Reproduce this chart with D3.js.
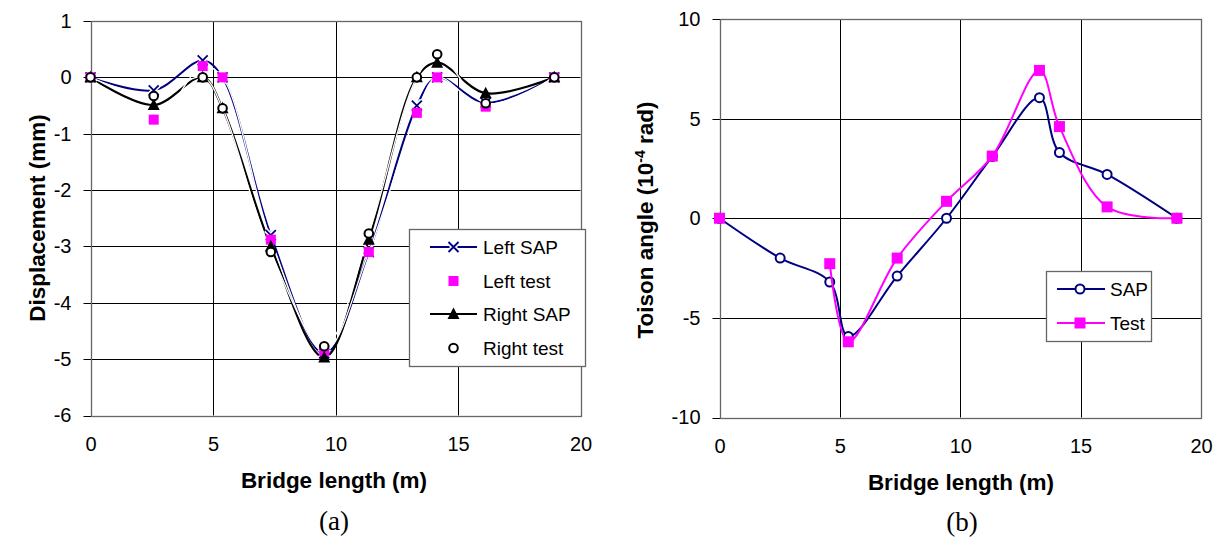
<!DOCTYPE html>
<html><head><meta charset="utf-8">
<script src="https://cdn.jsdelivr.net/npm/d3@7"></script>
<style>
html,body{margin:0;padding:0;background:#fff;}
svg{display:block;}
</style></head>
<body>
<svg id="c" width="1222" height="545" font-family="Liberation Sans, Arial, sans-serif"></svg>
<script>
// ---------- data (a) displacement ----------
const xTicks = [0, 5, 10, 15, 20];
const yTicksA = [1, 0, -1, -2, -3, -4, -5, -6];
const distA = [0, 2.58, 4.58, 5.39, 7.36, 9.54, 11.36, 13.32, 14.15, 16.13, 18.93];
const leftSAP   = [0, -0.23, 0.3, 0, -2.8, -4.9, -3.1, -0.5, 0, -0.45, 0];
const leftTest  = [0, -0.75, 0.2, 0, -2.88, -4.86, -3.1, -0.63, 0, -0.52, 0];
const rightSAP  = [0, -0.49, 0, -0.55, -3.0, -4.97, -2.88, 0, 0.26, -0.28, 0];
const rightTest = [0, -0.33, 0, -0.55, -3.1, -4.77, -2.77, 0, 0.41, -0.46, 0];
const legendA = ["Left SAP", "Left test", "Right SAP", "Right test"];

// ---------- data (b) torsion angle ----------
const yTicksB = [10, 5, 0, -5, -10];
const distB = [0, 2.52, 4.58, 5.35, 7.38, 9.43, 11.33, 13.29, 14.12, 16.1, 19.0];
const sapB  = [0, -2.0, -3.2, -5.93, -2.9, 0, 3.1, 6.05, 3.3, 2.2, 0];
const testB = [0, null, -2.28, -6.2, -2.0, 0.85, 3.12, 7.42, 4.6, 0.57, 0];
const legendB = ["SAP", "Test"];

const NAVY = "#000080", MAG = "#FF00FF";
const SANS = "Liberation Sans, Arial, sans-serif";
const SERIF = "Liberation Serif, Times New Roman, serif";
const svg = d3.select("#c");

function frame(g, x, y, yTicks) {
  const [x0, x1] = x.range(); const [y0, y1] = y.range();
  g.append("g").selectAll("line").data(yTicks).join("line")
    .attr("x1", x0 - 7).attr("x2", x1)
    .attr("y1", d => Math.round(y(d)) + 0.5).attr("y2", d => Math.round(y(d)) + 0.5)
    .attr("stroke", "#000").attr("stroke-width", 1);
  g.append("g").selectAll("line").data(xTicks).join("line")
    .attr("x1", d => Math.round(x(d)) + 0.5).attr("x2", d => Math.round(x(d)) + 0.5)
    .attr("y1", y1).attr("y2", y0)
    .attr("stroke", "#000").attr("stroke-width", 1);
  g.append("rect").attr("x", Math.round(x0) + 0.5).attr("y", Math.round(y1) + 0.5)
    .attr("width", Math.round(x1) - Math.round(x0)).attr("height", Math.round(y0) - Math.round(y1))
    .attr("fill", "none").attr("stroke", "#666").attr("stroke-width", 1.3);
  const ay = g.append("g").attr("transform", `translate(${x0},0)`)
    .call(d3.axisLeft(y).tickValues(yTicks).tickSize(0).tickPadding(19).tickFormat(d => String(d)));
  ay.select(".domain").remove();
  ay.selectAll("text").attr("font-size", 20).attr("fill", "#000").style("font-family", SANS);
  const ax = g.append("g").attr("transform", `translate(0,${y0})`)
    .call(d3.axisBottom(x).tickValues(xTicks).tickSize(0).tickPadding(21).tickFormat(d => String(d)));
  ax.select(".domain").remove();
  ax.selectAll("text").attr("font-size", 20).attr("fill", "#000").style("font-family", SANS);
}

function xMark(g, cx, cy, s, color) {
  const d = `M${cx-s},${cy-s}L${cx+s},${cy+s}M${cx-s},${cy+s}L${cx+s},${cy-s}`;
  g.append("path").attr("d", d).attr("stroke", "#fff").attr("stroke-width", 5).attr("fill", "none");
  g.append("path").attr("d", d).attr("stroke", color).attr("stroke-width", 1.8).attr("fill", "none");
}
function tri(g, cx, cy, color) {
  g.append("path").attr("d", `M${cx},${cy-6.5}L${cx+6},${cy+5}L${cx-6},${cy+5}Z`).attr("fill", color);
}
function sq(g, cx, cy, s, color) {
  g.append("rect").attr("x", cx - s/2).attr("y", cy - s/2).attr("width", s).attr("height", s).attr("fill", color);
}
function circ(g, cx, cy, r, color) {
  g.append("circle").attr("cx", cx).attr("cy", cy).attr("r", r)
    .attr("fill", "#fff").attr("stroke", color).attr("stroke-width", 2);
}

// ================= Chart (a) =================
const xA = d3.scaleLinear().domain([0, 20]).range([90.5, 580.5]);
const yA = d3.scaleLinear().domain([-6, 1]).range([415.5, 21]);
const gA = svg.append("g");
frame(gA, xA, yA, yTicksA);
const curve = d3.curveCatmullRom.alpha(0.5);
const lineA = d3.line().x(d => xA(d[0])).y(d => yA(d[1])).curve(curve);
const zipA = v => distA.map((d, i) => [d, v[i]]);
gA.append("path").attr("d", lineA(zipA(leftSAP))).attr("fill", "none").attr("stroke", NAVY).attr("stroke-width", 2);
gA.append("path").attr("d", lineA(zipA(rightSAP))).attr("fill", "none").attr("stroke", "#000").attr("stroke-width", 2.2);
gA.append("path").attr("d", lineA(zipA(leftTest))).attr("fill", "none").attr("stroke", "#fff").attr("stroke-width", 1.3);
gA.append("path").attr("d", lineA(zipA(rightTest))).attr("fill", "none").attr("stroke", "#fff").attr("stroke-width", 1.3);
zipA(leftSAP).forEach(p => xMark(gA, xA(p[0]), yA(p[1]), 5, NAVY));
zipA(leftTest).forEach(p => sq(gA, xA(p[0]), yA(p[1]), 10, MAG));
zipA(rightSAP).forEach(p => tri(gA, xA(p[0]), yA(p[1]), "#000"));
zipA(rightTest).forEach(p => circ(gA, xA(p[0]), yA(p[1]), 4.3, "#000"));

const lgA = gA.append("g");
lgA.append("rect").attr("x", 409.5).attr("y", 229.5).attr("width", 176).attr("height", 137)
  .attr("fill", "#fff").attr("stroke", "#666").attr("stroke-width", 1.3);
const lyA = [247, 281, 314, 348];
legendA.forEach((name, i) => {
  const cy = lyA[i], cx = 453.5;
  if (i === 0) {
    lgA.append("line").attr("x1", 430).attr("x2", 477).attr("y1", cy).attr("y2", cy).attr("stroke", NAVY).attr("stroke-width", 2);
    xMark(lgA, cx, cy, 5, NAVY);
  } else if (i === 1) {
    sq(lgA, cx, cy, 10, MAG);
  } else if (i === 2) {
    lgA.append("line").attr("x1", 430).attr("x2", 477).attr("y1", cy).attr("y2", cy).attr("stroke", "#000").attr("stroke-width", 2);
    tri(lgA, cx, cy, "#000");
  } else {
    circ(lgA, cx, cy, 4.3, "#000");
  }
  lgA.append("text").attr("x", 483).attr("y", cy).attr("dy", "0.35em").attr("font-size", 19).text(name);
});

gA.append("text").attr("transform", "translate(45,218) rotate(-90)").attr("text-anchor", "middle")
  .attr("font-size", 22.5).attr("font-weight", "bold").text("Displacement (mm)");
gA.append("text").attr("x", 334).attr("y", 488).attr("text-anchor", "middle")
  .attr("font-size", 22.5).attr("font-weight", "bold").text("Bridge length (m)");
gA.append("text").attr("x", 334).attr("y", 530).attr("text-anchor", "middle")
  .attr("font-size", 27).style("font-family", SERIF).text("(a)");

// ================= Chart (b) =================
const xB = d3.scaleLinear().domain([0, 20]).range([719.5, 1201]);
const yB = d3.scaleLinear().domain([-10, 10]).range([417.5, 19]);
const gB = svg.append("g");
frame(gB, xB, yB, yTicksB);
const lineB = d3.line().defined(d => d[1] !== null).x(d => xB(d[0])).y(d => yB(d[1])).curve(curve);
const sapPts = distB.map((d, i) => [d, sapB[i]]);
const testPts = distB.map((d, i) => [d, testB[i]]);
gB.append("path").attr("d", lineB(sapPts)).attr("fill", "none").attr("stroke", NAVY).attr("stroke-width", 2);
sapPts.forEach(p => circ(gB, xB(p[0]), yB(p[1]), 4.5, NAVY));
gB.append("path").attr("d", lineB(testPts)).attr("fill", "none").attr("stroke", MAG).attr("stroke-width", 2);
testPts.filter(p => p[1] !== null).forEach(p => sq(gB, xB(p[0]), yB(p[1]), 11, MAG));

const lgB = gB.append("g");
lgB.append("rect").attr("x", 1046.5).attr("y", 271.5).attr("width", 105).attr("height", 70)
  .attr("fill", "#fff").attr("stroke", "#666").attr("stroke-width", 1.3);
const lyB = [289, 323];
legendB.forEach((name, i) => {
  const cy = lyB[i];
  const col = i === 0 ? NAVY : MAG;
  lgB.append("line").attr("x1", 1057).attr("x2", 1105).attr("y1", cy).attr("y2", cy).attr("stroke", col).attr("stroke-width", 2);
  if (i === 0) circ(lgB, 1080, cy, 4.5, NAVY); else sq(lgB, 1080, cy, 11, MAG);
  lgB.append("text").attr("x", 1110).attr("y", cy).attr("dy", "0.35em").attr("font-size", 19).text(name);
});

const tB = gB.append("text").attr("transform", "translate(653,220) rotate(-90)").attr("text-anchor", "middle")
  .attr("font-size", 22.5).attr("font-weight", "bold");
tB.append("tspan").text("Toison angle (10");
tB.append("tspan").attr("font-size", 14).attr("dy", -8).text("-4");
tB.append("tspan").attr("dy", 8).text(" rad)");
gB.append("text").attr("x", 961).attr("y", 490).attr("text-anchor", "middle")
  .attr("font-size", 22.5).attr("font-weight", "bold").text("Bridge length (m)");
gB.append("text").attr("x", 962).attr("y", 531).attr("text-anchor", "middle")
  .attr("font-size", 27).style("font-family", SERIF).text("(b)");
</script>
</body></html>
